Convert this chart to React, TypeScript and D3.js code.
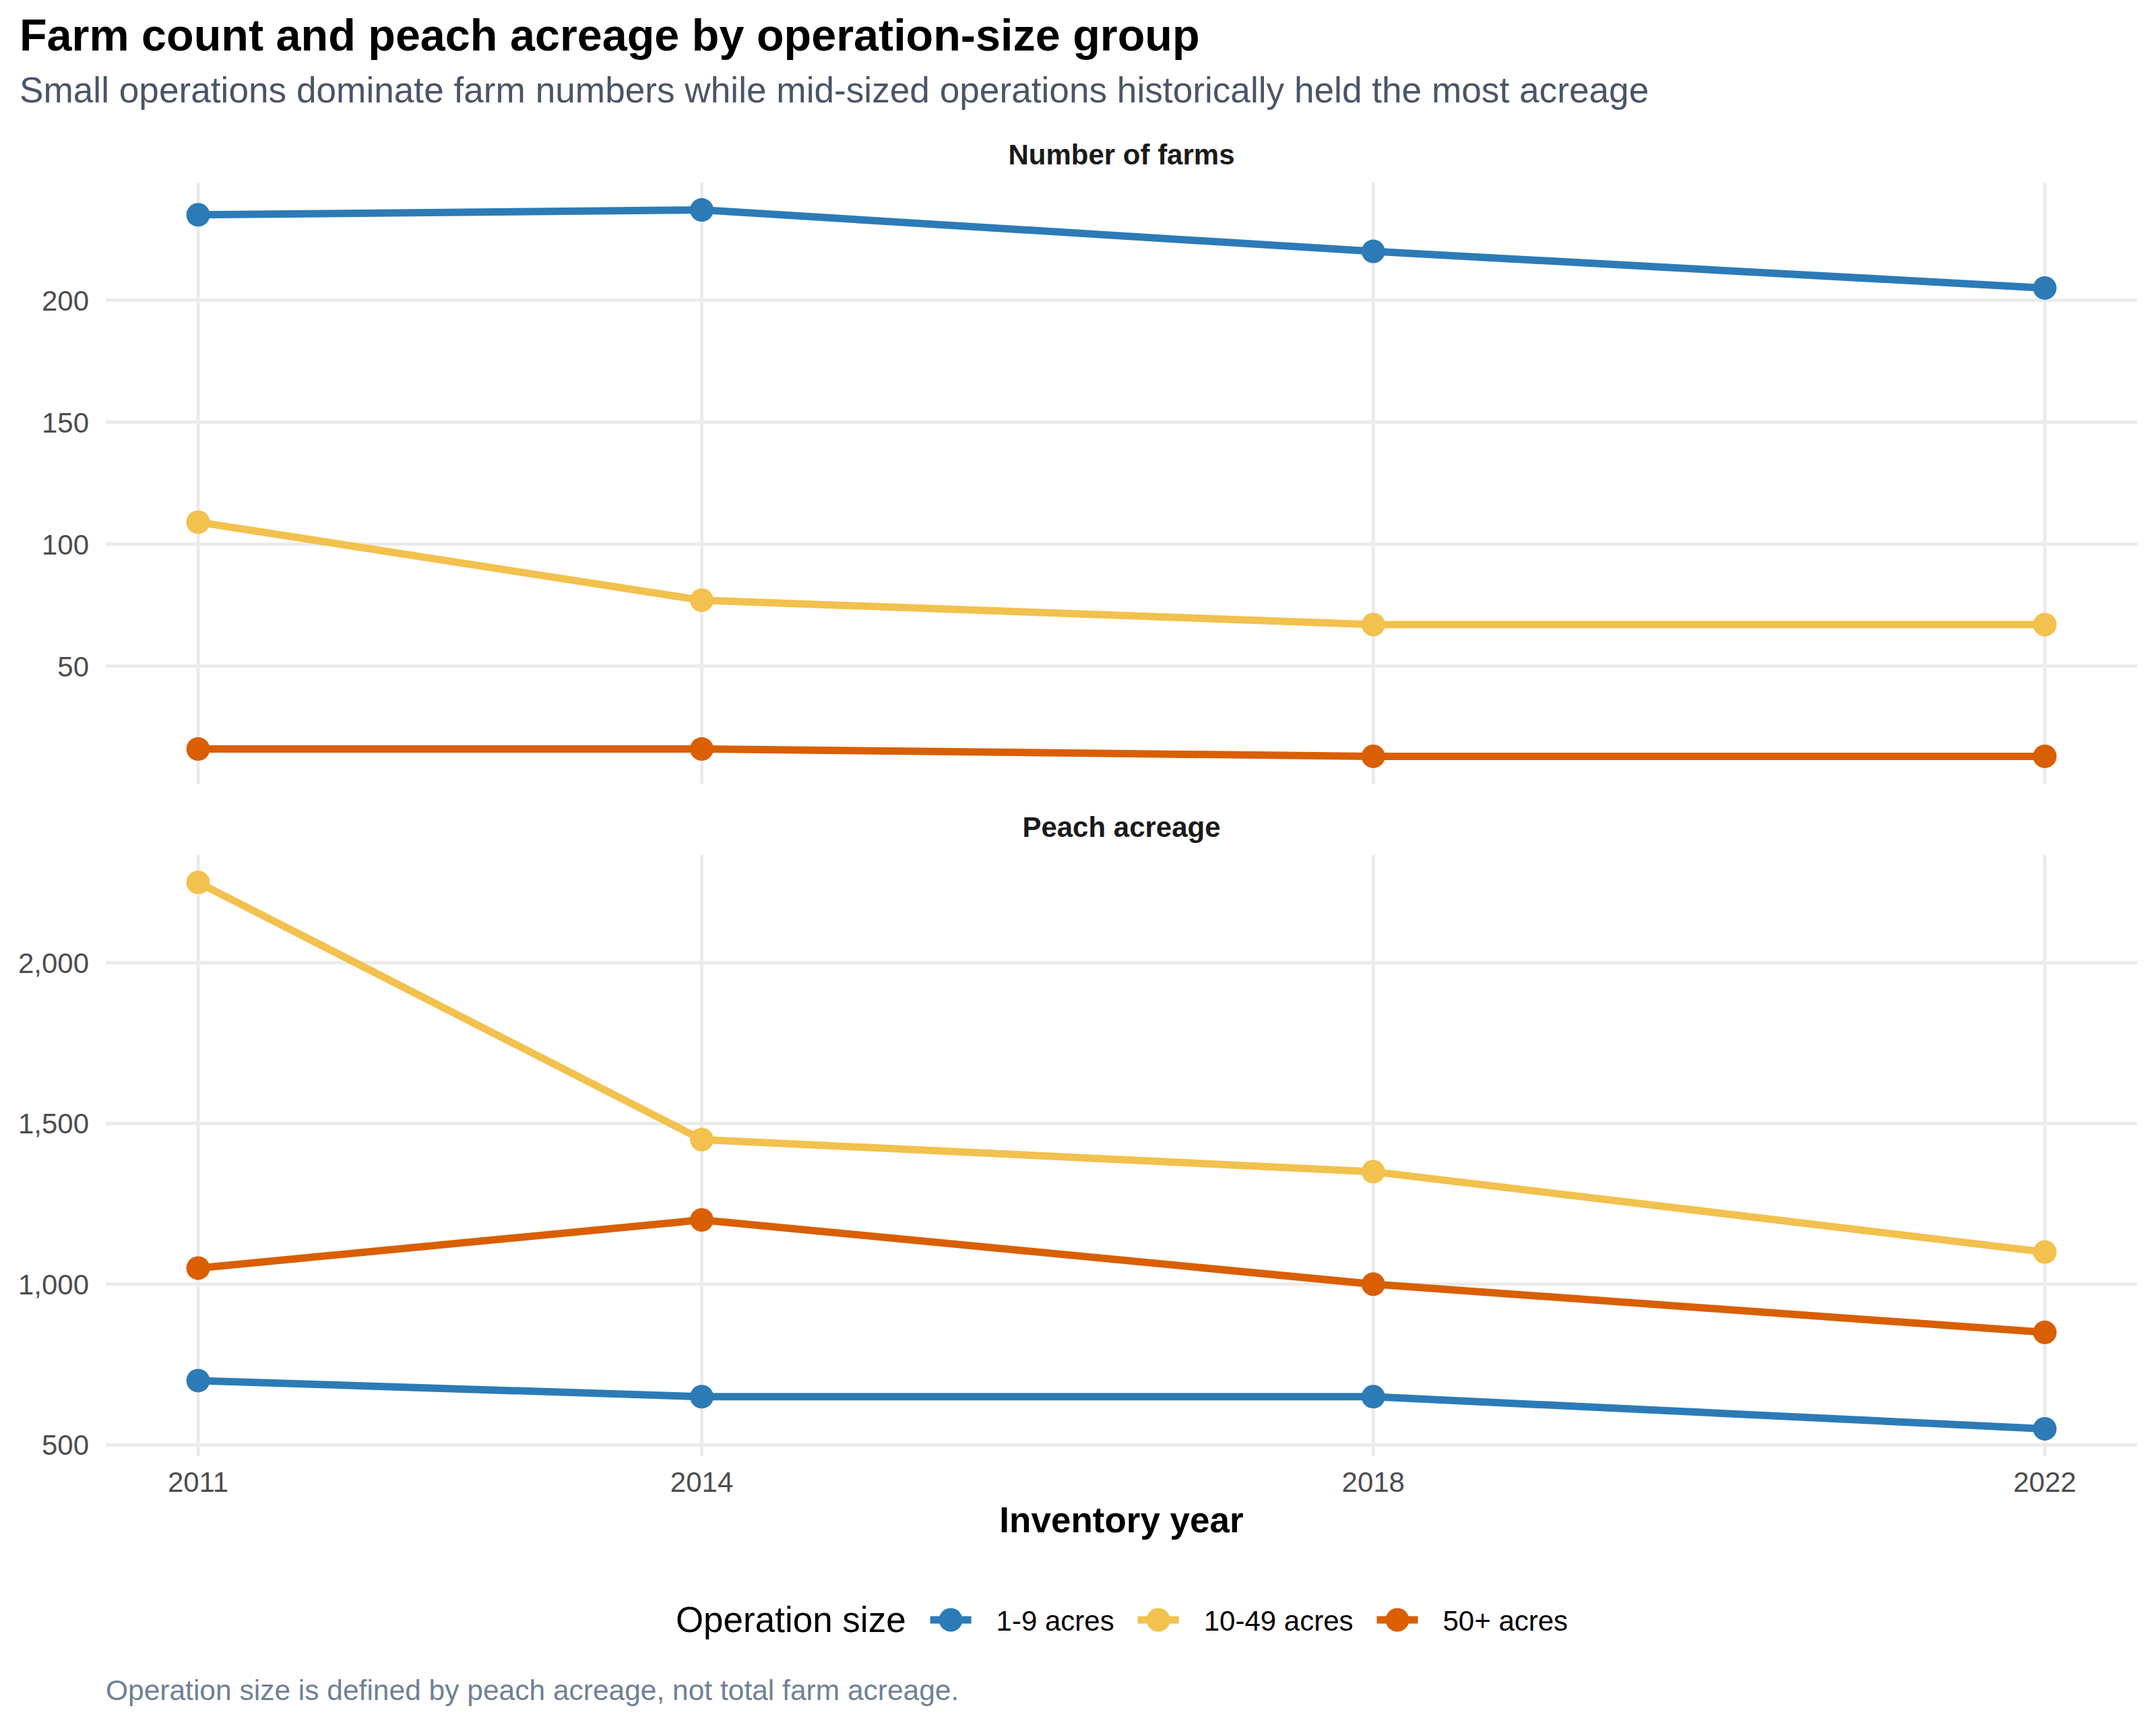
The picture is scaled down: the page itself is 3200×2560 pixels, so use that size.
import React, { useEffect, useRef } from "react";
import * as d3 from "d3";

// chart data
const years = [2011, 2014, 2018, 2022];
const sizeGroups = ["1-9 acres", "10-49 acres", "50+ acres"];
const groupColors = ["#2C7BB6", "#F2C14E", "#D95F02"];

const farms1to9 = [235, 237, 220, 205];
const farms10to49 = [109, 77, 67, 67];
const farms50plus = [16, 16, 13, 13];

const acres1to9 = [700, 650, 650, 550];
const acres10to49 = [2250, 1450, 1350, 1100];
const acres50plus = [1050, 1200, 1000, 850];

const farmTicks = [50, 100, 150, 200];
const acreTicks = [500, 1000, 1500, 2000];

const panels = [
	{ label: "Number of farms", series: [farms1to9, farms10to49, farms50plus], ticks: farmTicks },
	{ label: "Peach acreage", series: [acres1to9, acres10to49, acres50plus], ticks: acreTicks },
];

const FONT = "'Liberation Sans', Arial, Helvetica, sans-serif";

const App: React.FC = () => {
	const chartRef = useRef<SVGSVGElement | null>(null);

	useEffect(() => {
		if (!chartRef.current) return;
		const width = 3200;
		const height = 2560;

		const svg = d3.select(chartRef.current);
		svg.selectAll("*").remove();

		svg.append("rect").attr("width", width).attr("height", height).attr("fill", "#ffffff");

		// titles
		svg.append("text")
			.attr("x", 29)
			.attr("y", 75)
			.attr("font-family", FONT)
			.attr("font-size", 66.5)
			.attr("font-weight", "bold")
			.attr("fill", "#000000")
			.text("Farm count and peach acreage by operation-size group");

		svg.append("text")
			.attr("x", 29)
			.attr("y", 152)
			.attr("font-family", FONT)
			.attr("font-size", 53.2)
			.attr("fill", "#4A5568")
			.text("Small operations dominate farm numbers while mid-sized operations historically held the most acreage");

		const left = 157;
		const right = 3172;
		const panelTops = [271, 1269];
		const panelHeight = 892;

		const x = d3
			.scaleLinear()
			.domain([2011 - 0.55, 2022 + 0.55])
			.range([left, right]);

		panels.forEach((p, pi) => {
			const top = panelTops[pi];
			const bottom = top + panelHeight;
			const all = p.series.flat();
			const lo = d3.min(all) as number;
			const hi = d3.max(all) as number;
			const pad = (hi - lo) * 0.05;
			const y = d3
				.scaleLinear()
				.domain([lo - pad, hi + pad])
				.range([bottom, top]);

			const g = svg.append("g");

			// strip
			g.append("text")
				.attr("x", (left + right) / 2)
				.attr("y", top - 27)
				.attr("text-anchor", "middle")
				.attr("font-family", FONT)
				.attr("font-size", 42)
				.attr("font-weight", "bold")
				.attr("fill", "#1A1A1A")
				.text(p.label);

			// grid
			g.selectAll(".hgrid")
				.data(p.ticks)
				.enter()
				.append("line")
				.attr("x1", left)
				.attr("x2", right)
				.attr("y1", (d) => y(d))
				.attr("y2", (d) => y(d))
				.attr("stroke", "#EBEBEB")
				.attr("stroke-width", 5);

			g.selectAll(".vgrid")
				.data(years)
				.enter()
				.append("line")
				.attr("x1", (d) => x(d))
				.attr("x2", (d) => x(d))
				.attr("y1", top)
				.attr("y2", bottom)
				.attr("stroke", "#EBEBEB")
				.attr("stroke-width", 5);

			// y labels
			g.selectAll(".ylab")
				.data(p.ticks)
				.enter()
				.append("text")
				.attr("x", 132)
				.attr("y", (d) => y(d))
				.attr("dy", "0.36em")
				.attr("text-anchor", "end")
				.attr("font-family", FONT)
				.attr("font-size", 42)
				.attr("fill", "#4D4D4D")
				.text((d) => d3.format(",")(d));

			const line = d3
				.line<number>()
				.x((_, i) => x(years[i]))
				.y((d) => y(d));

			p.series.forEach((s, si) => {
				g.append("path")
					.datum(s)
					.attr("d", line)
					.attr("fill", "none")
					.attr("stroke", groupColors[si])
					.attr("stroke-width", 11)
					.attr("stroke-linejoin", "round");
			});

			p.series.forEach((s, si) => {
				g.selectAll(`.pt${si}`)
					.data(s)
					.enter()
					.append("circle")
					.attr("cx", (_, i) => x(years[i]))
					.attr("cy", (d) => y(d))
					.attr("r", 17.5)
					.attr("fill", groupColors[si]);
			});
		});

		// x axis labels
		svg.selectAll(".xlab")
			.data(years)
			.enter()
			.append("text")
			.attr("x", (d) => x(d))
			.attr("y", 2214)
			.attr("text-anchor", "middle")
			.attr("font-family", FONT)
			.attr("font-size", 42)
			.attr("fill", "#4D4D4D")
			.text((d) => String(d));

		svg.append("text")
			.attr("x", (left + right) / 2)
			.attr("y", 2274)
			.attr("text-anchor", "middle")
			.attr("font-family", FONT)
			.attr("font-size", 53)
			.attr("font-weight", "bold")
			.attr("fill", "#000000")
			.text("Inventory year");

		// legend
		const legend = svg.append("g");
		const legendBase = 2422;
		const keyY = 2404;
		const title = legend
			.append("text")
			.attr("y", legendBase)
			.attr("font-family", FONT)
			.attr("font-size", 53)
			.attr("fill", "#000000")
			.text("Operation size");
		let cursor = (title.node() as SVGTextElement).getComputedTextLength() + 36;
		sizeGroups.forEach((name, i) => {
			legend.append("line")
				.attr("x1", cursor)
				.attr("x2", cursor + 61)
				.attr("y1", keyY)
				.attr("y2", keyY)
				.attr("stroke", groupColors[i])
				.attr("stroke-width", 11);
			legend.append("circle")
				.attr("cx", cursor + 30.5)
				.attr("cy", keyY)
				.attr("r", 17.5)
				.attr("fill", groupColors[i]);
			cursor += 61 + 37;
			const t = legend
				.append("text")
				.attr("x", cursor)
				.attr("y", legendBase - 2)
				.attr("font-family", FONT)
				.attr("font-size", 42)
				.attr("fill", "#000000")
				.text(name);
			cursor += (t.node() as SVGTextElement).getComputedTextLength();
			if (i < sizeGroups.length - 1) cursor += 35;
		});
		legend.attr("transform", `translate(${1665 - cursor / 2},0)`);

		// caption
		svg.append("text")
			.attr("x", left)
			.attr("y", 2523)
			.attr("font-family", FONT)
			.attr("font-size", 42.5)
			.attr("fill", "#718096")
			.text("Operation size is defined by peach acreage, not total farm acreage.");

		return () => {
			svg.selectAll("*").remove();
		};
	}, []);

	return (
		<svg
			ref={chartRef}
			width={3200}
			height={2560}
			style={{ position: "absolute", left: 0, top: 0, display: "block" }}
		/>
	);
};

export default App;
